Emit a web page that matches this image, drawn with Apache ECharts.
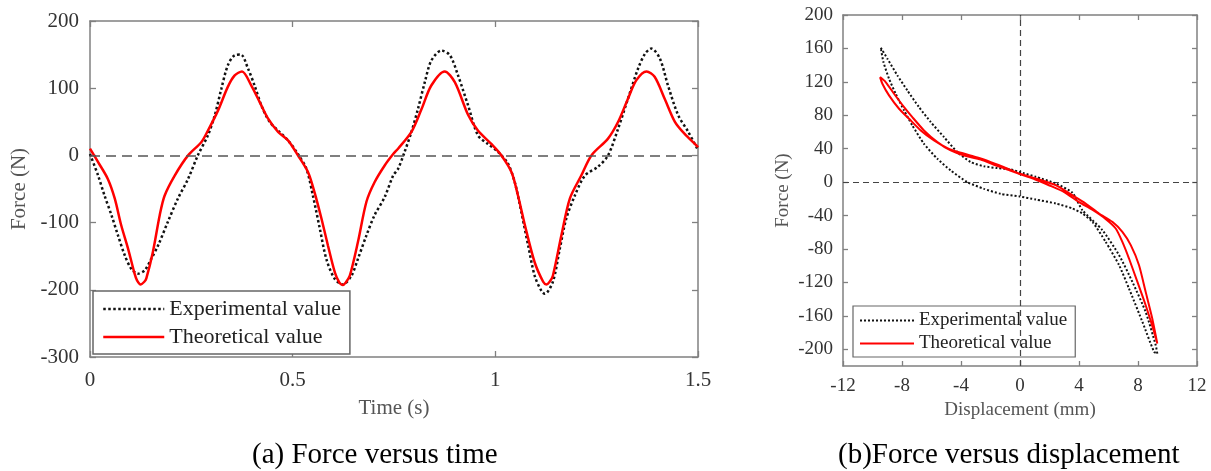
<!DOCTYPE html>
<html>
<head>
<meta charset="utf-8">
<script src="https://cdn.jsdelivr.net/npm/echarts@6/dist/echarts.min.js"></script>
<style>
html,body{margin:0;padding:0;background:#fff;}
#chart{width:1211px;height:471px;}
</style>
</head>
<body>
<div id="chart"></div>
<script>
// ---- (a) Force versus time ----
const timeExp = [0, 0.020, 0.036, 0.053, 0.069, 0.086, 0.102, 0.118, 0.135, 0.151, 0.168, 0.192, 0.217, 0.242, 0.266, 0.291, 0.308, 0.324, 0.340, 0.357, 0.372, 0.390, 0.406, 0.423, 0.443, 0.464, 0.489, 0.513, 0.534, 0.550, 0.567, 0.583, 0.604, 0.624, 0.645, 0.661, 0.682, 0.702, 0.727, 0.748, 0.760, 0.776, 0.793, 0.809, 0.826, 0.842, 0.867, 0.888, 0.908, 0.933, 0.957, 0.982, 1.007, 1.031, 1.048, 1.064, 1.081, 1.097, 1.114, 1.122, 1.142, 1.159, 1.175, 1.196, 1.221, 1.253, 1.278, 1.303, 1.327, 1.352, 1.369, 1.385, 1.406, 1.426, 1.451, 1.476, 1.5];
const forceExp = [2, -30, -60, -89, -119, -149, -169, -176, -171, -154, -134, -99, -64, -35, 0, 30, 60, 99, 134, 149, 150, 129, 104, 74, 50, 37, 22, 2, -20, -60, -109, -154, -184, -192, -179, -154, -119, -89, -62, -30, -20, 5, 35, 69, 109, 141, 156, 149, 119, 74, 30, 17, 5, -12, -40, -84, -134, -179, -202, -206, -188, -139, -94, -60, -30, -17, 0, 40, 84, 129, 151, 159, 144, 104, 60, 35, 8];
const timeTheo = [0, 0.020, 0.044, 0.061, 0.077, 0.094, 0.110, 0.116, 0.125, 0.134, 0.139, 0.155, 0.172, 0.184, 0.209, 0.242, 0.275, 0.291, 0.316, 0.340, 0.357, 0.375, 0.398, 0.419, 0.439, 0.464, 0.489, 0.513, 0.538, 0.554, 0.571, 0.587, 0.604, 0.615, 0.623, 0.631, 0.641, 0.661, 0.682, 0.702, 0.727, 0.748, 0.760, 0.793, 0.818, 0.842, 0.875, 0.900, 0.933, 0.957, 0.990, 1.015, 1.040, 1.056, 1.073, 1.097, 1.118, 1.126, 1.134, 1.142, 1.163, 1.184, 1.212, 1.237, 1.278, 1.303, 1.327, 1.348, 1.373, 1.393, 1.418, 1.443, 1.467, 1.496, 1.5];
const forceTheo = [10, -10, -35, -64, -104, -139, -176, -186, -192, -188, -183, -144, -89, -60, -30, 0, 20, 37, 67, 102, 119, 125, 104, 79, 55, 35, 22, 0, -25, -55, -94, -134, -174, -189, -193, -189, -179, -129, -69, -40, -15, 2, 10, 35, 69, 104, 125, 109, 60, 37, 17, 0, -25, -60, -104, -159, -188, -192, -188, -179, -119, -64, -30, 0, 25, 50, 84, 112, 125, 117, 84, 50, 32, 15, 12];

// ---- (b) Force versus displacement (hysteresis loops) ----
const dispExp = [-9.44, -8.99, -8.31, -7.64, -6.85, -6.05, -5.15, -4.25, -3.34, -2.44, -1.54, -0.63, 0.20, 1.06, 2.42, 3.55, 4.23, 5.59, 6.72, 7.62, 8.52, 9.20, 9.31, 9.09, 8.30, 7.39, 6.72, 5.81, 4.91, 4.23, 3.55, 2.42, 1.06, -0.02, -1.31, -2.44, -3.57, -4.70, -5.60, -6.51, -7.30, -7.86, -8.43, -8.88, -9.26, -9.44];
const forceExpLoop = [160.9, 147.7, 127.7, 109.8, 89.8, 71.9, 53.9, 36, 24, 19, 16.8, 15.2, 11, 6.4, -1.6, -12.6, -33.5, -57.5, -87.4, -119.4, -155.3, -195, -205.2, -203, -167.3, -127.3, -99.4, -71.5, -47.5, -37.5, -31.5, -25.5, -20.8, -17.2, -14, -8, 0, 14, 27.9, 45.9, 67.9, 85.8, 105.8, 123.8, 143.7, 160.9];
const dispTheo = [-9.49, -9.11, -8.54, -7.86, -7.30, -6.51, -5.60, -4.70, -3.79, -2.66, -1.76, -0.86, -0.02, 1.06, 2.42, 3.55, 4.45, 5.36, 6.26, 6.94, 7.51, 8.07, 8.52, 8.97, 9.31, 9.02, 8.52, 7.96, 7.39, 6.94, 6.49, 5.80, 4.90, 4.00, 3.00, 2.00, 1.00, 0.00, -1.08, -1.98, -2.89, -4.02, -4.92, -5.83, -6.73, -7.52, -8.20, -8.88, -9.33, -9.49];
const forceTheoLoop = [125.7, 119.8, 105.8, 89.8, 77.8, 61.9, 47.9, 37.9, 31.9, 27.1, 20.8, 15.2, 10, 4.4, -3.6, -15.6, -25.5, -37.5, -47.5, -59.5, -75.4, -99.4, -131.3, -163.3, -193.2, -175.2, -147.3, -119.4, -91.4, -71.5, -55.5, -44, -33, -24, -12, -4, 3.5, 9.6, 18, 24, 29.5, 35.1, 40.7, 49.9, 61.9, 75.8, 87.8, 103.8, 117.8, 125.7];
const loopForceTicks = [-200, -160, -120, -80, -40, 0, 40, 80, 120, 160, 200];

const zip = (xs, ys) => xs.map((x, i) => [x, ys[i]]);

const FONT = 'Liberation Serif';
const AX = '#808080';

function xAx(grid, min, max, interval, pos, name, fs, nameGap, tickLen) {
  const a = {
    gridIndex: grid, type: 'value', min, max, interval, position: pos,
    axisLine: {show: true, onZero: false, lineStyle: {color: AX, width: 1.5}},
    axisTick: {show: true, inside: true, length: tickLen, lineStyle: {color: AX, width: 1.3}},
    axisLabel: {show: pos === 'bottom', color: '#333', fontFamily: FONT, fontSize: fs, margin: fs === 21 ? 13 : 11},
    splitLine: {show: false}
  };
  if (name) {
    a.name = name; a.nameLocation = 'middle'; a.nameGap = nameGap;
    a.nameTextStyle = {color: '#555', fontFamily: FONT, fontSize: fs};
  }
  return a;
}
function yAx(grid, min, max, interval, pos, name, fs, nameGap, tickLen, custom) {
  const a = {
    gridIndex: grid, type: 'value', min, max, position: pos,
    axisLine: {show: true, onZero: false, lineStyle: {color: AX, width: 1.5}},
    axisTick: {show: true, inside: true, length: tickLen, lineStyle: {color: AX, width: 1.3}},
    axisLabel: {show: pos === 'left', color: '#333', fontFamily: FONT, fontSize: fs, margin: fs === 21 ? 11 : 10},
    splitLine: {show: false}
  };
  if (interval) a.interval = interval;
  if (custom) { a.axisTick.customValues = custom; a.axisLabel.customValues = custom; }
  if (name) {
    a.name = name; a.nameLocation = 'middle'; a.nameGap = nameGap;
    a.nameTextStyle = {color: '#555', fontFamily: FONT, fontSize: fs};
  }
  return a;
}

const noSymbol = {color: 'transparent', opacity: 0, borderWidth: 0};

const chart = echarts.init(document.getElementById('chart'), null, {renderer: 'canvas'});
chart.setOption({
  animation: false,
  backgroundColor: '#fff',
  grid: [
    {left: 90, top: 21, width: 608, height: 336},
    {left: 843, top: 15, width: 354, height: 351}
  ],
  xAxis: [
    xAx(0, 0, 1.5, 0.5, 'bottom', 'Time (s)', 21, 41, 6),
    xAx(0, 0, 1.5, 0.5, 'top', null, 21, 0, 6),
    xAx(1, -12, 12, 4, 'bottom', 'Displacement (mm)', 19, 35, 5),
    xAx(1, -12, 12, 4, 'top', null, 19, 0, 5)
  ],
  yAxis: [
    yAx(0, -300, 200, 100, 'left', 'Force (N)', 21, 54, 6),
    yAx(0, -300, 200, 100, 'right', null, 21, 0, 6),
    yAx(1, -220, 200, null, 'left', 'Force (N)', 19, 50, 5, loopForceTicks),
    yAx(1, -220, 200, null, 'right', null, 19, 0, 5, loopForceTicks)
  ],
  legend: [
    {
      orient: 'vertical', left: 93, top: 291, padding: [7, 9, 6, 9],
      backgroundColor: '#fff', borderColor: '#666', borderWidth: 1.5,
      itemWidth: 61, itemHeight: 14, itemGap: 6, itemTextGap: 8, selectedMode: false,
      textStyle: {fontFamily: FONT, fontSize: 22, color: '#222', lineHeight: 21},
      data: [
        {name: 'Experimental value', itemStyle: noSymbol, lineStyle: {color: '#111', width: 2.5, type: [2.5, 2.5]}},
        {name: 'Theoretical value', itemStyle: noSymbol, lineStyle: {color: '#ff0000', width: 2.5, type: 'solid'}}
      ]
    },
    {
      orient: 'vertical', left: 853, top: 306, padding: [5, 8, 4, 6],
      backgroundColor: '#fff', borderColor: '#666', borderWidth: 1.2,
      itemWidth: 54, itemHeight: 12, itemGap: 4, itemTextGap: 6, selectedMode: false,
      textStyle: {fontFamily: FONT, fontSize: 19, color: '#222', lineHeight: 19},
      data: [
        {name: 'Experimental value', itemStyle: noSymbol, lineStyle: {color: '#111', width: 2, type: [2, 2]}},
        {name: 'Theoretical value', itemStyle: noSymbol, lineStyle: {color: '#ff0000', width: 2, type: 'solid'}}
      ]
    }
  ],
  series: [
    {
      name: 'Experimental value', type: 'line', xAxisIndex: 0, yAxisIndex: 0,
      data: zip(timeExp, forceExp), symbol: 'none', smooth: 0.3, z: 3,
      itemStyle: {color: '#111'},
      lineStyle: {color: '#111', width: 2.5, type: [2.5, 2.5]},
      markLine: {
        silent: true, symbol: 'none', label: {show: false},
        lineStyle: {color: '#555', type: [10, 6], width: 1.5},
        data: [{yAxis: 0}]
      }
    },
    {
      name: 'Theoretical value', type: 'line', xAxisIndex: 0, yAxisIndex: 0,
      data: zip(timeTheo, forceTheo), symbol: 'none', smooth: 0.3, z: 4,
      itemStyle: {color: '#ff0000'},
      lineStyle: {color: '#ff0000', width: 2.5}
    },
    {
      name: 'Experimental value', type: 'line', xAxisIndex: 2, yAxisIndex: 2,
      data: zip(dispExp, forceExpLoop), symbol: 'none', smooth: 0.2, z: 5,
      itemStyle: {color: '#111'},
      lineStyle: {color: '#111', width: 2, type: [2, 2]},
      markLine: {
        silent: true, symbol: 'none', label: {show: false},
        lineStyle: {color: '#444', type: [6, 4], width: 1.2},
        data: [{yAxis: 0}, {xAxis: 0}]
      }
    },
    {
      name: 'Theoretical value', type: 'line', xAxisIndex: 2, yAxisIndex: 2,
      data: zip(dispTheo, forceTheoLoop), symbol: 'none', smooth: 0.2, z: 6,
      itemStyle: {color: '#ff0000'},
      lineStyle: {color: '#ff0000', width: 2}
    }
  ],
  graphic: [
    {type: 'text', left: 252, top: 441, style: {text: '(a) Force versus time', font: '29px "Liberation Serif"', fill: '#000'}},
    {type: 'text', left: 838, top: 441, style: {text: '(b)Force versus displacement', font: '29px "Liberation Serif"', fill: '#000'}}
  ]
});
</script>
</body>
</html>
